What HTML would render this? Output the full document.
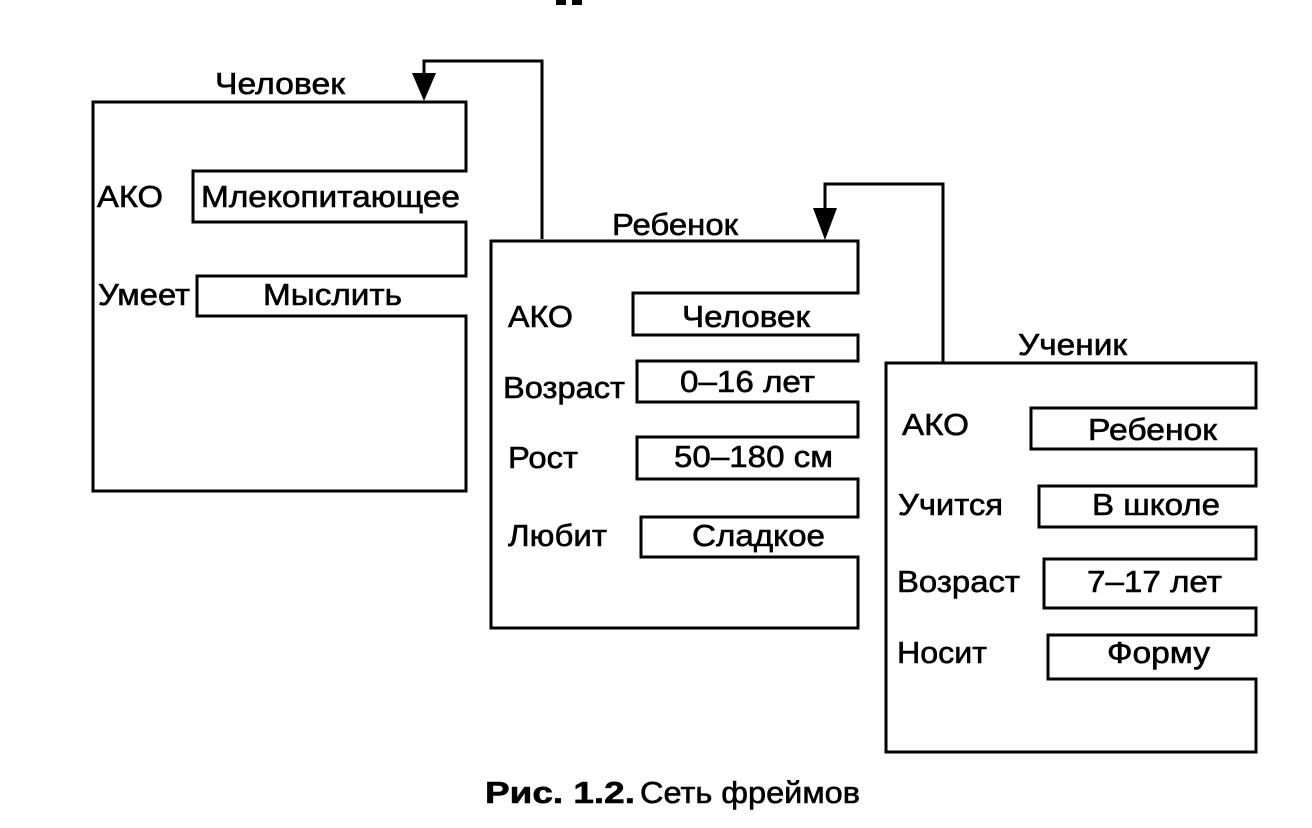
<!DOCTYPE html>
<html><head><meta charset="utf-8"><style>
html,body{margin:0;padding:0;background:#fff;}
svg{display:block;}
text{font-family:"Liberation Sans",Arial,sans-serif;font-size:31px;fill:#000;stroke:#000;stroke-width:0.6px;}
</style></head><body>
<svg width="1312" height="828" viewBox="0 0 1312 828" xmlns="http://www.w3.org/2000/svg">
<rect x="556" y="0" width="10" height="5" fill="#000"/>
<rect x="572" y="0" width="10" height="5" fill="#000"/>
<g fill="none" stroke="#000" stroke-width="3" stroke-linejoin="miter">
<path d="M93,102 H466 V171 H193 V222 H466 V276 H197 V316 H466 V491 H93 Z"/>
<path d="M491,241 H858 V293 H633 V335 H858 V361 H637 V402 H858 V437 H637 V479 H858 V517 H641 V557 H858 V628 H491 Z"/>
<path d="M886,363 H1256 V408 H1031 V449 H1256 V486 H1039 V527 H1256 V559 H1044 V608 H1256 V635 H1048 V679 H1256 V752 H886 Z"/>
<path d="M542,239 V61 H424 V78"/>
<path d="M943,362 V184 H825 V210"/>
</g>
<polygon points="412,73 436,73 424,101" fill="#000"/>
<polygon points="813,208 837,208 825,240" fill="#000"/>

<text x="215" y="94" textLength="130" lengthAdjust="spacingAndGlyphs">Человек</text>
<text x="97" y="207" textLength="66" lengthAdjust="spacingAndGlyphs">АКО</text>
<text x="201" y="207" textLength="259" lengthAdjust="spacingAndGlyphs">Млекопитающее</text>
<text x="98" y="305" textLength="92" lengthAdjust="spacingAndGlyphs">Умеет</text>
<text x="263" y="305" textLength="139" lengthAdjust="spacingAndGlyphs">Мыслить</text>

<text x="612" y="235" textLength="126" lengthAdjust="spacingAndGlyphs">Ребенок</text>
<text x="508" y="327" textLength="65" lengthAdjust="spacingAndGlyphs">АКО</text>
<text x="682" y="327" textLength="128" lengthAdjust="spacingAndGlyphs">Человек</text>
<text x="503" y="398" textLength="122" lengthAdjust="spacingAndGlyphs">Возраст</text>
<text x="680" y="392" textLength="135" lengthAdjust="spacingAndGlyphs">0–16 лет</text>
<text x="508" y="468" textLength="70" lengthAdjust="spacingAndGlyphs">Рост</text>
<text x="674" y="467" textLength="159" lengthAdjust="spacingAndGlyphs">50–180 см</text>
<text x="508" y="546" textLength="99" lengthAdjust="spacingAndGlyphs">Любит</text>
<text x="692" y="546" textLength="133" lengthAdjust="spacingAndGlyphs">Сладкое</text>

<text x="1018" y="355" textLength="109" lengthAdjust="spacingAndGlyphs">Ученик</text>
<text x="902" y="435" textLength="67" lengthAdjust="spacingAndGlyphs">АКО</text>
<text x="1088" y="440" textLength="129" lengthAdjust="spacingAndGlyphs">Ребенок</text>
<text x="898" y="515" textLength="105" lengthAdjust="spacingAndGlyphs">Учится</text>
<text x="1092" y="515" textLength="128" lengthAdjust="spacingAndGlyphs">В школе</text>
<text x="897" y="592" textLength="123" lengthAdjust="spacingAndGlyphs">Возраст</text>
<text x="1087" y="592" textLength="135" lengthAdjust="spacingAndGlyphs">7–17 лет</text>
<text x="897" y="663" textLength="90" lengthAdjust="spacingAndGlyphs">Носит</text>
<text x="1107" y="663" textLength="103" lengthAdjust="spacingAndGlyphs">Форму</text>

<text x="485" y="803" font-weight="bold" textLength="150" lengthAdjust="spacingAndGlyphs">Рис. 1.2.</text>
<text x="640" y="803" textLength="220" lengthAdjust="spacingAndGlyphs">Сеть фреймов</text>
</svg>
</body></html>
